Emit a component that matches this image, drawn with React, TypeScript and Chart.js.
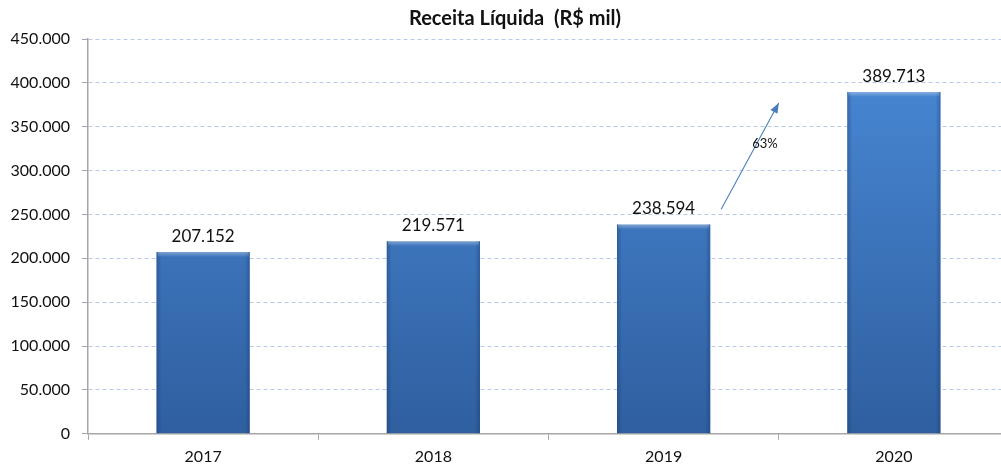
import React, { useEffect, useRef } from "react";
import { Chart, registerables } from "chart.js";

Chart.register(...registerables);

const title = "Receita Líquida  (R$ mil)";
const categories = ["2017", "2018", "2019", "2020"];
const receita = [207152, 219571, 238594, 389713];
const valueLabels = ["207.152", "219.571", "238.594", "389.713"];
const yTicks = [0, 50000, 100000, 150000, 200000, 250000, 300000, 350000, 400000, 450000];
const growthLabel = "63%";
// arrow in data units: [categoryIndex, value]
const arrowStart = [2.25, 256000];
const arrowEnd = [2.5, 377000];
const growthLabelPos = [2.44, 330000];

const FONT = "Lato, 'Noto Sans', sans-serif";

const bevelPlugin = {
  id: "bevel",
  afterDatasetsDraw(chart: any) {
    const { ctx } = chart;
    const meta = chart.getDatasetMeta(0);
    ctx.save();
    meta.data.forEach((bar: any) => {
      const left = bar.x - bar.width / 2;
      const right = bar.x + bar.width / 2;
      const top = bar.y;
      const bottom = bar.base;
      const e = 5;
      // side shading
      const gl = ctx.createLinearGradient(left, 0, left + e, 0);
      gl.addColorStop(0, "rgba(20,50,100,0.35)");
      gl.addColorStop(1, "rgba(20,50,100,0)");
      ctx.fillStyle = gl;
      ctx.fillRect(left, top, e, bottom - top);
      const gr = ctx.createLinearGradient(right - e, 0, right, 0);
      gr.addColorStop(0, "rgba(20,50,100,0)");
      gr.addColorStop(1, "rgba(20,50,100,0.35)");
      ctx.fillStyle = gr;
      ctx.fillRect(right - e, top, e, bottom - top);
      // top highlight
      const gt = ctx.createLinearGradient(0, top, 0, top + e);
      gt.addColorStop(0, "rgba(255,255,255,0.35)");
      gt.addColorStop(1, "rgba(255,255,255,0)");
      ctx.fillStyle = gt;
      ctx.fillRect(left + 1, top, bar.width - 2, e);
    });
    ctx.restore();
  },
};

const labelPlugin = {
  id: "labels",
  afterDatasetsDraw(chart: any) {
    const { ctx } = chart;
    const meta = chart.getDatasetMeta(0);
    ctx.save();
    // title
    ctx.font = `bold 20px ${FONT}`;
    ctx.fillStyle = "#111";
    ctx.textAlign = "center";
    ctx.textBaseline = "middle";
    ctx.fillText(title, 515, 19);

    ctx.font = `17px ${FONT}`;
    ctx.textBaseline = "alphabetic";
    meta.data.forEach((bar: any, i: number) => {
      ctx.fillText(valueLabels[i], bar.x, bar.y - 10);
    });
    const xs = chart.scales.x;
    const ys = chart.scales.y;
    const x1 = xs.getPixelForValue(arrowStart[0]);
    const y1 = ys.getPixelForValue(arrowStart[1]);
    const x2 = xs.getPixelForValue(arrowEnd[0]);
    const y2 = ys.getPixelForValue(arrowEnd[1]);
    ctx.strokeStyle = "#4a7ebb";
    ctx.fillStyle = "#4a7ebb";
    ctx.lineWidth = 1.1;
    ctx.beginPath();
    ctx.moveTo(x1, y1);
    ctx.lineTo(x2, y2);
    ctx.stroke();
    const ang = Math.atan2(y2 - y1, x2 - x1);
    const L = 10, W = 4;
    ctx.beginPath();
    ctx.moveTo(x2, y2);
    ctx.lineTo(x2 - L * Math.cos(ang) + W * Math.sin(ang), y2 - L * Math.sin(ang) - W * Math.cos(ang));
    ctx.lineTo(x2 - L * Math.cos(ang) - W * Math.sin(ang), y2 - L * Math.sin(ang) + W * Math.cos(ang));
    ctx.closePath();
    ctx.fill();
    ctx.font = `13px ${FONT}`;
    ctx.fillStyle = "#111";
    ctx.textBaseline = "middle";
    ctx.fillText(growthLabel, xs.getPixelForValue(growthLabelPos[0]), ys.getPixelForValue(growthLabelPos[1]));
    ctx.restore();
  },
};

export default function App() {
  const ref = useRef<HTMLCanvasElement>(null);
  useEffect(() => {
    const canvas = ref.current!;
    const chart = new Chart(canvas, {
      type: "bar",
      data: {
        labels: categories,
        datasets: [
          {
            data: receita,
            backgroundColor: (c: any) => {
              const { chart } = c;
              const area = chart.chartArea;
              if (!area) return "#3f7fcf";
              const g = chart.ctx.createLinearGradient(0, area.top, 0, area.bottom);
              g.addColorStop(0, "#4a8ad8");
              g.addColorStop(1, "#2f5f9f");
              return g;
            },
            borderColor: "#2f5f9f",
            borderWidth: 0,
            barPercentage: 0.405,
            categoryPercentage: 1,
          },
        ],
      },
      options: {
        responsive: false,
        animation: false,
        layout: { padding: { left: 0, right: 0, top: 39, bottom: 2 } },
        plugins: {
          legend: { display: false },
          tooltip: { enabled: false },
          title: { display: false },
        },
        scales: {
          x: {
            grid: {
              display: true,
              drawOnChartArea: false,
              drawTicks: true,
              tickLength: 6,
              tickColor: "#a6a6a6",
              offset: true,
            },
            border: { color: "#a6a6a6", width: 1.5 },
            ticks: { font: { family: FONT, size: 16 }, color: "#111", padding: 7 },
          },
          y: {
            min: 0,
            max: 450000,
            afterBuildTicks: (s: any) => {
              s.ticks = yTicks.map((v) => ({ value: v }));
            },
            grid: {
              color: "#b9c9ea",
              tickBorderDash: [],
              tickColor: "#a6a6a6",
              tickLength: 6,
            } as any,
            border: { color: "#a6a6a6", width: 1.5, dash: [4, 3] },
            ticks: {
              font: { family: FONT, size: 16 },
              color: "#111",
              padding: 12,
              callback: (v: any) => (v === 0 ? "0" : (v / 1000).toFixed(3)),
            },
            afterFit: (s: any) => {
              s.width = 88;
            },
          },
        },
      },
      plugins: [bevelPlugin, labelPlugin],
    } as any);
    return () => chart.destroy();
  }, []);
  return (
    <div style={{ position: "fixed", left: 0, top: 0, width: 1001, height: 469, overflow: "hidden", background: "#fff" }}>
      <canvas ref={ref} width={1009} height={475} style={{ display: "block" }} />
    </div>
  );
}
